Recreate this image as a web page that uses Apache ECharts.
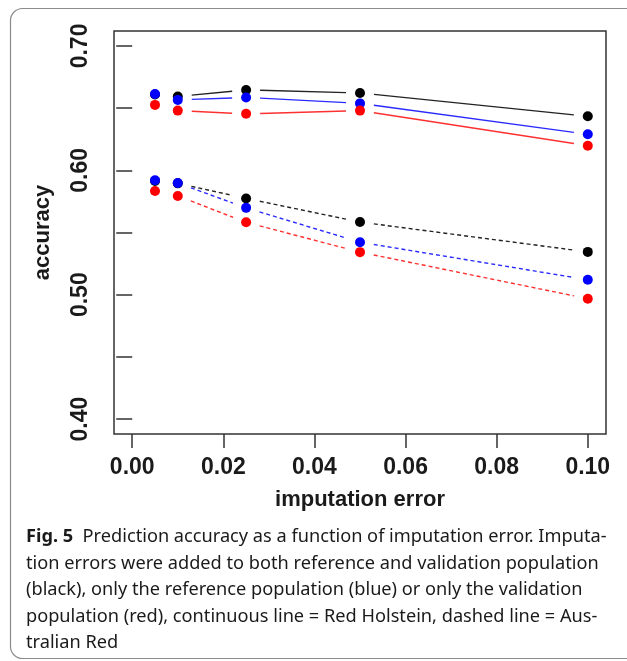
<!DOCTYPE html>
<html>
<head>
<meta charset="utf-8">
<script src="https://cdn.jsdelivr.net/npm/echarts@6/dist/echarts.min.js"></script>
<style>
html,body{margin:0;padding:0;background:#fff;}
#chart{width:627px;height:661px;}
</style>
</head>
<body>
<div id="chart"></div>
<script>
// imputation error levels
var imputationError = [0.005, 0.01, 0.025, 0.05, 0.10];
// Red Holstein (continuous lines)
var rhBoth = [0.661, 0.6594, 0.6646, 0.6622, 0.6434];
var rhRef  = [0.6614, 0.6566, 0.6586, 0.6538, 0.629];
var rhVal  = [0.6526, 0.648, 0.6454, 0.648, 0.6198];
// Australian Red (dashed lines)
var arBoth = [0.5915, 0.5895, 0.5774, 0.5584, 0.5344];
var arRef  = [0.592, 0.5898, 0.5698, 0.5422, 0.512];
var arVal  = [0.5834, 0.5794, 0.5582, 0.5342, 0.4968];
// axis ticks
var xTicks = [0, 0.02, 0.04, 0.06, 0.08, 0.10];
var yTicks = [0.40, 0.45, 0.50, 0.55, 0.60, 0.65, 0.70];
var yLabels = [0.40, 0.50, 0.60, 0.70];

var captionLines = [
  ['Fig. 5', '  Prediction accuracy as a function of imputation error. Imputa-'],
  ['', 'tion errors were added to both reference and validation population'],
  ['', '(black), only the reference population (blue) or only the validation'],
  ['', 'population (red), continuous line = Red Holstein, dashed line = Aus-'],
  ['', 'tralian Red']
];

var BLACK = '#000000', BLUE = '#0000ff', RED = '#ff0000';
var GAP = 14;

function pairs(ys) {
  return imputationError.map(function (x, i) { return [x, ys[i]]; });
}

function segSeries(ys, color, dashed, z) {
  var pts = pairs(ys);
  return {
    type: 'custom',
    data: pts,
    z: z,
    silent: true,
    renderItem: function (params, api) {
      var i = params.dataIndex;
      if (i === 0) return null;
      var a = api.coord(pts[i - 1]);
      var b = api.coord(pts[i]);
      var dx = b[0] - a[0], dy = b[1] - a[1];
      var L = Math.sqrt(dx * dx + dy * dy);
      if (L <= 2 * GAP) return null;
      var ux = dx / L, uy = dy / L;
      return {
        type: 'line',
        shape: { x1: a[0] + ux * GAP, y1: a[1] + uy * GAP, x2: b[0] - ux * GAP, y2: b[1] - uy * GAP },
        style: { stroke: color, lineWidth: 1.4, lineDash: dashed ? [4, 3] : null, fill: null }
      };
    }
  };
}

function pointSeries(ys, color, z) {
  return {
    type: 'scatter',
    data: pairs(ys),
    symbol: 'circle',
    symbolSize: 10,
    z: z,
    itemStyle: { color: color, opacity: 1 },
    silent: true
  };
}

var chart = echarts.init(document.getElementById('chart'), null, { renderer: 'canvas' });

var graphics = [{
  type: 'rect',
  shape: { x: 10.5, y: 8.5, width: 1200, height: 650, r: 12 },
  style: { fill: null, stroke: '#8c8c8c', lineWidth: 1.2 },
  z: -1
}];
var capMid = 537, capStep = 26.5;
captionLines.forEach(function (ln, i) {
  graphics.push({
    type: 'text',
    x: 26,
    y: capMid + i * capStep,
    style: {
      text: (ln[0] ? '{b|' + ln[0] + '}' : '') + '{n|' + ln[1] + '}',
      verticalAlign: 'middle',
      rich: {
        b: { fontFamily: 'Noto Sans', fontWeight: 'bold', fontSize: 18.2, lineHeight: 21, fill: '#1a1a1a' },
        n: { fontFamily: 'Noto Sans', fontWeight: 'normal', fontSize: 18.2, lineHeight: 21, fill: '#1a1a1a' }
      }
    }
  });
});

var option = {
  backgroundColor: '#ffffff',
  animation: false,
  grid: {
    left: 114, top: 31, right: 21, bottom: 227,
    show: true, borderColor: '#333333', borderWidth: 1.5, backgroundColor: 'transparent'
  },
  xAxis: {
    type: 'value',
    min: -0.004, max: 0.104,
    name: 'imputation error',
    nameLocation: 'middle',
    nameGap: 55,
    nameTextStyle: { fontFamily: 'Liberation Sans', fontWeight: 'bold', fontSize: 22, color: '#1a1a1a' },
    axisLine: { show: false },
    splitLine: { show: false },
    axisTick: { show: true, length: 14, customValues: xTicks, lineStyle: { color: '#333', width: 1.5 } },
    axisLabel: {
      customValues: xTicks, margin: 22,
      fontFamily: 'Liberation Sans', fontWeight: 'bold', fontSize: 23, color: '#1a1a1a',
      formatter: function (v) { return v.toFixed(2); }
    }
  },
  yAxis: {
    type: 'value',
    min: 0.388, max: 0.712,
    name: 'accuracy',
    nameLocation: 'middle',
    nameGap: 60,
    nameRotate: 90,
    nameTextStyle: { fontFamily: 'Liberation Sans', fontWeight: 'bold', fontSize: 22, color: '#1a1a1a' },
    axisLine: { show: false },
    splitLine: { show: false },
    axisTick: { show: true, length: 16, customValues: yTicks, lineStyle: { color: '#333', width: 1.5 } },
    axisLabel: {
      customValues: yLabels, margin: 22, rotate: 90,
      fontFamily: 'Liberation Sans', fontWeight: 'bold', fontSize: 23, color: '#1a1a1a',
      formatter: function (v) { return v.toFixed(2); }
    }
  },
  graphic: graphics,
  series: [
    segSeries(rhBoth, '#222222', false, 2),
    segSeries(rhRef, '#2a2aff', false, 2),
    segSeries(rhVal, '#ff3030', false, 2),
    segSeries(arBoth, '#222222', true, 2),
    segSeries(arRef, '#2a2aff', true, 2),
    segSeries(arVal, '#ff3030', true, 2),
    pointSeries(rhBoth, BLACK, 3),
    pointSeries(arBoth, BLACK, 3),
    pointSeries(rhRef, BLUE, 4),
    pointSeries(arRef, BLUE, 4),
    pointSeries(rhVal, RED, 5),
    pointSeries(arVal, RED, 5)
  ]
};
chart.setOption(option);
</script>
</body>
</html>
